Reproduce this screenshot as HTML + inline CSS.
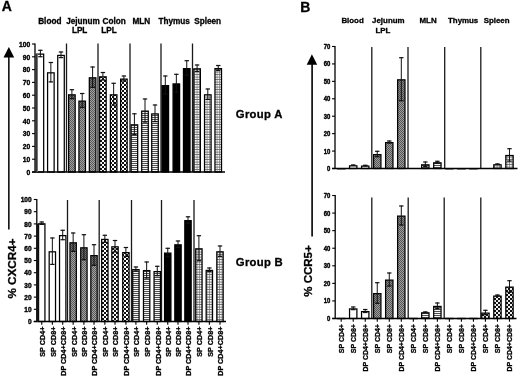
<!DOCTYPE html>
<html><head><meta charset="utf-8"><title>CXCR4 CCR5 figure</title>
<style>
html,body{margin:0;padding:0;background:#fff;}
body{width:520px;height:378px;position:relative;overflow:hidden;font-family:"Liberation Sans", sans-serif;}
text{stroke:#000;stroke-width:0.3px;}
</style></head><body>
<svg width="520" height="378" viewBox="0 0 520 378" style="position:absolute;left:0;top:0;filter:grayscale(1)" font-family='"Liberation Sans", sans-serif' font-weight="bold">
<defs>
<linearGradient id="gBand" x1="0" x2="1" y1="0" y2="0"><stop offset="0" stop-color="#222"/><stop offset="0.45" stop-color="#333"/><stop offset="1" stop-color="#999"/></linearGradient>
<pattern id="pJej" width="2" height="2" patternUnits="userSpaceOnUse"><rect width="2" height="2" fill="#a2a2a2"/><rect width="1" height="1" fill="#5a5a5a"/><rect x="1" y="1" width="1" height="1" fill="#5a5a5a"/></pattern>
<pattern id="pJejB" width="2" height="2" patternUnits="userSpaceOnUse"><rect width="2" height="2" fill="#9e9e9e"/><rect width="1" height="1" fill="#555"/><rect x="1" y="1" width="1" height="1" fill="#555"/></pattern>
<pattern id="pCol" width="4" height="4" patternUnits="userSpaceOnUse"><rect width="4" height="4" fill="#fff"/><rect width="2" height="2" fill="#111"/><rect x="2" y="2" width="2" height="2" fill="#111"/></pattern>
<pattern id="pCol2" width="4" height="4" patternUnits="userSpaceOnUse"><rect width="4" height="4" fill="#eee"/><rect width="2" height="2" fill="#111"/><rect x="2" y="2" width="2" height="2" fill="#111"/></pattern>
<pattern id="pMln" width="2" height="2" patternUnits="userSpaceOnUse"><rect width="2" height="2" fill="#f6f6f6"/><rect y="1" width="2" height="1" fill="#505050"/></pattern>
<pattern id="pSpl" width="2.5" height="2.5" patternUnits="userSpaceOnUse"><rect width="2.5" height="2.5" fill="#f6f6f6"/><rect y="1.9" width="2.5" height="0.6" fill="#333"/><rect x="1.9" width="0.6" height="2.5" fill="#6a6a6a"/></pattern>
</defs>
<rect width="520" height="378" fill="#fff"/>
<text x="1.7" y="11.3" font-size="14" text-anchor="start" >A</text>
<text x="300.2" y="11.5" font-size="14" text-anchor="start" >B</text>
<text x="38.2" y="23.5" font-size="8.2" text-anchor="start" >Blood</text>
<text x="66.2" y="23.5" font-size="8.2" text-anchor="start" >Jejunum</text>
<text x="71.9" y="33.1" font-size="8.2" text-anchor="start" >LPL</text>
<text x="102.6" y="23.5" font-size="8.2" text-anchor="start" >Colon</text>
<text x="101.3" y="33.1" font-size="8.2" text-anchor="start" >LPL</text>
<text x="132.5" y="23.5" font-size="8.2" text-anchor="start" >MLN</text>
<text x="158.5" y="23.5" font-size="8.2" text-anchor="start" >Thymus</text>
<text x="194.2" y="23.5" font-size="8.2" text-anchor="start" >Spleen</text>
<text x="341.4" y="23.3" font-size="7.9" text-anchor="start" >Blood</text>
<text x="372.1" y="23.3" font-size="7.9" text-anchor="start" >Jejunum</text>
<text x="375.5" y="32.6" font-size="7.9" text-anchor="start" >LPL</text>
<text x="419.5" y="23.3" font-size="7.9" text-anchor="start" >MLN</text>
<text x="448" y="23.3" font-size="7.9" text-anchor="start" >Thymus</text>
<text x="483.7" y="23.3" font-size="7.9" text-anchor="start" >Spleen</text>
<text x="235.8" y="117.9" font-size="11.3" text-anchor="start" letter-spacing="0.3">Group A</text>
<text x="235.8" y="265.9" font-size="11.3" text-anchor="start" letter-spacing="0.3">Group B</text>
<line x1="8.85" y1="56" x2="8.85" y2="229.4" stroke="#000" stroke-width="1.5"/>
<polygon points="8.85,46.9 14.2,57.4 3.5,57.4" fill="#000"/>
<line x1="312.1" y1="64" x2="312.1" y2="236.5" stroke="#000" stroke-width="1.6"/>
<polygon points="311.9,54.3 317.2,64.8 306.7,64.8" fill="#000"/>
<text transform="translate(15.95,238.5) rotate(-90)" font-size="11.7" text-anchor="end" >% CXCR4+</text>
<text transform="translate(312.1,245.3) rotate(-90)" font-size="11.5" text-anchor="end" >% CCR5+</text>
<line x1="66.5" y1="43.5" x2="66.5" y2="172" stroke="#1a1a1a" stroke-width="1.3"/>
<line x1="98" y1="43.5" x2="98" y2="172" stroke="#1a1a1a" stroke-width="1.3"/>
<line x1="130" y1="43.5" x2="130" y2="172" stroke="#1a1a1a" stroke-width="1.3"/>
<line x1="161" y1="43.5" x2="161" y2="172" stroke="#1a1a1a" stroke-width="1.3"/>
<line x1="192.5" y1="43.5" x2="192.5" y2="172" stroke="#1a1a1a" stroke-width="1.3"/>
<rect x="37.12" y="54.12" width="6.55" height="117.88" fill="#fff" stroke="#000" stroke-width="1.25"/>
<line x1="40.4" y1="49.8" x2="40.4" y2="57.2" stroke="#111" stroke-width="1"/>
<line x1="38.2" y1="50.3" x2="42.6" y2="50.3" stroke="#111" stroke-width="1.2"/>
<line x1="38.2" y1="56.7" x2="42.6" y2="56.7" stroke="#111" stroke-width="1.2"/>
<rect x="47.58" y="72.83" width="6.55" height="99.17" fill="#fff" stroke="#000" stroke-width="1.25"/>
<line x1="50.85" y1="62" x2="50.85" y2="82.4" stroke="#111" stroke-width="1"/>
<line x1="48.65" y1="62.5" x2="53.05" y2="62.5" stroke="#111" stroke-width="1.2"/>
<line x1="48.65" y1="81.9" x2="53.05" y2="81.9" stroke="#111" stroke-width="1.2"/>
<rect x="57.73" y="55.42" width="6.55" height="116.58" fill="#fff" stroke="#000" stroke-width="1.25"/>
<line x1="61" y1="51.5" x2="61" y2="58.1" stroke="#111" stroke-width="1"/>
<line x1="58.8" y1="52" x2="63.2" y2="52" stroke="#111" stroke-width="1.2"/>
<line x1="58.8" y1="57.6" x2="63.2" y2="57.6" stroke="#111" stroke-width="1.2"/>
<rect x="68.62" y="94.83" width="6.55" height="77.17" fill="url(#pJej)" stroke="#000" stroke-width="1.25"/>
<rect x="69.25" y="94.83" width="5.3" height="4.38" fill="rgba(0,0,0,0.28)"/>
<line x1="71.9" y1="89.2" x2="71.9" y2="99.2" stroke="#111" stroke-width="1"/>
<line x1="69.7" y1="89.7" x2="74.1" y2="89.7" stroke="#111" stroke-width="1.2"/>
<line x1="69.7" y1="98.7" x2="74.1" y2="98.7" stroke="#111" stroke-width="1.2"/>
<rect x="78.92" y="101.12" width="6.55" height="70.88" fill="url(#pJej)" stroke="#000" stroke-width="1.25"/>
<rect x="79.55" y="101.12" width="5.3" height="6.88" fill="rgba(0,0,0,0.28)"/>
<line x1="82.2" y1="93" x2="82.2" y2="108" stroke="#111" stroke-width="1"/>
<line x1="80" y1="93.5" x2="84.4" y2="93.5" stroke="#111" stroke-width="1.2"/>
<line x1="80" y1="107.5" x2="84.4" y2="107.5" stroke="#111" stroke-width="1.2"/>
<rect x="89.32" y="77.83" width="6.55" height="94.17" fill="url(#pJej)" stroke="#000" stroke-width="1.25"/>
<rect x="89.95" y="77.83" width="5.3" height="10.08" fill="rgba(0,0,0,0.28)"/>
<line x1="92.6" y1="66.5" x2="92.6" y2="87.9" stroke="#111" stroke-width="1"/>
<line x1="90.4" y1="67" x2="94.8" y2="67" stroke="#111" stroke-width="1.2"/>
<line x1="90.4" y1="87.4" x2="94.8" y2="87.4" stroke="#111" stroke-width="1.2"/>
<rect x="99.62" y="76.83" width="6.55" height="95.17" fill="url(#pCol)" stroke="#000" stroke-width="1.25"/>
<line x1="102.9" y1="72" x2="102.9" y2="80.4" stroke="#111" stroke-width="1"/>
<line x1="100.7" y1="72.5" x2="105.1" y2="72.5" stroke="#111" stroke-width="1.2"/>
<line x1="100.7" y1="79.9" x2="105.1" y2="79.9" stroke="#111" stroke-width="1.2"/>
<rect x="110.38" y="94.83" width="6.55" height="77.17" fill="url(#pCol)" stroke="#000" stroke-width="1.25"/>
<line x1="113.65" y1="82.8" x2="113.65" y2="105.6" stroke="#111" stroke-width="1"/>
<line x1="111.45" y1="83.3" x2="115.85" y2="83.3" stroke="#111" stroke-width="1.2"/>
<line x1="111.45" y1="105.1" x2="115.85" y2="105.1" stroke="#111" stroke-width="1.2"/>
<rect x="120.62" y="79.12" width="6.55" height="92.88" fill="url(#pCol)" stroke="#000" stroke-width="1.25"/>
<line x1="123.9" y1="75.5" x2="123.9" y2="81.5" stroke="#111" stroke-width="1"/>
<line x1="121.7" y1="76" x2="126.1" y2="76" stroke="#111" stroke-width="1.2"/>
<line x1="121.7" y1="81" x2="126.1" y2="81" stroke="#111" stroke-width="1.2"/>
<rect x="131.12" y="124.83" width="6.55" height="47.17" fill="url(#pMln)" stroke="#000" stroke-width="1.25"/>
<line x1="134.4" y1="113.3" x2="134.4" y2="135.1" stroke="#111" stroke-width="1"/>
<line x1="132.2" y1="113.8" x2="136.6" y2="113.8" stroke="#111" stroke-width="1.2"/>
<line x1="132.2" y1="134.6" x2="136.6" y2="134.6" stroke="#111" stroke-width="1.2"/>
<rect x="141.72" y="111.12" width="6.55" height="60.88" fill="url(#pMln)" stroke="#000" stroke-width="1.25"/>
<line x1="145" y1="98.5" x2="145" y2="122.5" stroke="#111" stroke-width="1"/>
<line x1="142.8" y1="99" x2="147.2" y2="99" stroke="#111" stroke-width="1.2"/>
<line x1="142.8" y1="122" x2="147.2" y2="122" stroke="#111" stroke-width="1.2"/>
<rect x="151.72" y="113.92" width="6.55" height="58.08" fill="url(#pMln)" stroke="#000" stroke-width="1.25"/>
<line x1="155" y1="104.5" x2="155" y2="122.1" stroke="#111" stroke-width="1"/>
<line x1="152.8" y1="105" x2="157.2" y2="105" stroke="#111" stroke-width="1.2"/>
<line x1="152.8" y1="121.6" x2="157.2" y2="121.6" stroke="#111" stroke-width="1.2"/>
<rect x="162.03" y="85.62" width="6.55" height="86.38" fill="#000" stroke="#000" stroke-width="1.25"/>
<line x1="165.3" y1="75.5" x2="165.3" y2="94.5" stroke="#111" stroke-width="1"/>
<line x1="163.1" y1="76" x2="167.5" y2="76" stroke="#111" stroke-width="1.2"/>
<line x1="163.1" y1="94" x2="167.5" y2="94" stroke="#111" stroke-width="1.2"/>
<rect x="173.07" y="83.92" width="6.55" height="88.08" fill="#000" stroke="#000" stroke-width="1.25"/>
<line x1="176.35" y1="73.8" x2="176.35" y2="92.8" stroke="#111" stroke-width="1"/>
<line x1="174.15" y1="74.3" x2="178.55" y2="74.3" stroke="#111" stroke-width="1.2"/>
<line x1="174.15" y1="92.3" x2="178.55" y2="92.3" stroke="#111" stroke-width="1.2"/>
<rect x="183.47" y="68.62" width="6.55" height="103.38" fill="#000" stroke="#000" stroke-width="1.25"/>
<line x1="186.75" y1="60.2" x2="186.75" y2="75.8" stroke="#111" stroke-width="1"/>
<line x1="184.55" y1="60.7" x2="188.95" y2="60.7" stroke="#111" stroke-width="1.2"/>
<line x1="184.55" y1="75.3" x2="188.95" y2="75.3" stroke="#111" stroke-width="1.2"/>
<rect x="193.82" y="68.83" width="6.55" height="103.17" fill="url(#pSpl)" stroke="#000" stroke-width="1.25"/>
<line x1="197.1" y1="64.5" x2="197.1" y2="71.9" stroke="#111" stroke-width="1"/>
<line x1="194.9" y1="65" x2="199.3" y2="65" stroke="#111" stroke-width="1.2"/>
<line x1="194.9" y1="71.4" x2="199.3" y2="71.4" stroke="#111" stroke-width="1.2"/>
<rect x="204.53" y="94.83" width="6.55" height="77.17" fill="url(#pSpl)" stroke="#000" stroke-width="1.25"/>
<line x1="207.8" y1="88.5" x2="207.8" y2="99.9" stroke="#111" stroke-width="1"/>
<line x1="205.6" y1="89" x2="210" y2="89" stroke="#111" stroke-width="1.2"/>
<line x1="205.6" y1="99.4" x2="210" y2="99.4" stroke="#111" stroke-width="1.2"/>
<rect x="214.97" y="68.62" width="6.55" height="103.38" fill="url(#pSpl)" stroke="#000" stroke-width="1.25"/>
<line x1="218.25" y1="65" x2="218.25" y2="71" stroke="#111" stroke-width="1"/>
<line x1="216.05" y1="65.5" x2="220.45" y2="65.5" stroke="#111" stroke-width="1.2"/>
<line x1="216.05" y1="70.5" x2="220.45" y2="70.5" stroke="#111" stroke-width="1.2"/>
<line x1="35" y1="43.5" x2="35" y2="172.6" stroke="#000" stroke-width="1.3"/>
<line x1="32" y1="172" x2="35" y2="172" stroke="#000" stroke-width="1.1"/>
<text transform="translate(30.3,174.88) scale(0.84,1)" font-size="8" text-anchor="end" style="stroke-width:0.42px">0</text>
<line x1="32" y1="159.2" x2="35" y2="159.2" stroke="#000" stroke-width="1.1"/>
<text transform="translate(30.3,162.08) scale(0.84,1)" font-size="8" text-anchor="end" style="stroke-width:0.42px">10</text>
<line x1="32" y1="146.4" x2="35" y2="146.4" stroke="#000" stroke-width="1.1"/>
<text transform="translate(30.3,149.28) scale(0.84,1)" font-size="8" text-anchor="end" style="stroke-width:0.42px">20</text>
<line x1="32" y1="133.6" x2="35" y2="133.6" stroke="#000" stroke-width="1.1"/>
<text transform="translate(30.3,136.48) scale(0.84,1)" font-size="8" text-anchor="end" style="stroke-width:0.42px">30</text>
<line x1="32" y1="120.8" x2="35" y2="120.8" stroke="#000" stroke-width="1.1"/>
<text transform="translate(30.3,123.68) scale(0.84,1)" font-size="8" text-anchor="end" style="stroke-width:0.42px">40</text>
<line x1="32" y1="108" x2="35" y2="108" stroke="#000" stroke-width="1.1"/>
<text transform="translate(30.3,110.88) scale(0.84,1)" font-size="8" text-anchor="end" style="stroke-width:0.42px">50</text>
<line x1="32" y1="95.2" x2="35" y2="95.2" stroke="#000" stroke-width="1.1"/>
<text transform="translate(30.3,98.08) scale(0.84,1)" font-size="8" text-anchor="end" style="stroke-width:0.42px">60</text>
<line x1="32" y1="82.4" x2="35" y2="82.4" stroke="#000" stroke-width="1.1"/>
<text transform="translate(30.3,85.28) scale(0.84,1)" font-size="8" text-anchor="end" style="stroke-width:0.42px">70</text>
<line x1="32" y1="69.6" x2="35" y2="69.6" stroke="#000" stroke-width="1.1"/>
<text transform="translate(30.3,72.48) scale(0.84,1)" font-size="8" text-anchor="end" style="stroke-width:0.42px">80</text>
<line x1="32" y1="56.8" x2="35" y2="56.8" stroke="#000" stroke-width="1.1"/>
<text transform="translate(30.3,59.68) scale(0.84,1)" font-size="8" text-anchor="end" style="stroke-width:0.42px">90</text>
<line x1="32" y1="44" x2="35" y2="44" stroke="#000" stroke-width="1.1"/>
<text transform="translate(30.3,46.88) scale(0.84,1)" font-size="8" text-anchor="end" style="stroke-width:0.42px">100</text>
<line x1="32" y1="172" x2="225" y2="172" stroke="#000" stroke-width="1.3"/>
<rect x="35.4" y="53.6" width="2.4" height="118.4" fill="url(#gBand)"/>
<line x1="67.5" y1="200" x2="67.5" y2="321.5" stroke="#1a1a1a" stroke-width="1.3"/>
<line x1="99.2" y1="200" x2="99.2" y2="321.5" stroke="#1a1a1a" stroke-width="1.3"/>
<line x1="131.5" y1="200" x2="131.5" y2="321.5" stroke="#1a1a1a" stroke-width="1.3"/>
<line x1="161.5" y1="200" x2="161.5" y2="321.5" stroke="#1a1a1a" stroke-width="1.3"/>
<line x1="194" y1="200" x2="194" y2="321.5" stroke="#1a1a1a" stroke-width="1.3"/>
<rect x="38.58" y="223.82" width="6.35" height="97.68" fill="#fff" stroke="#000" stroke-width="1.25"/>
<line x1="41.75" y1="221.5" x2="41.75" y2="224.9" stroke="#111" stroke-width="1"/>
<line x1="39.55" y1="222" x2="43.95" y2="222" stroke="#111" stroke-width="1.2"/>
<line x1="39.55" y1="224.4" x2="43.95" y2="224.4" stroke="#111" stroke-width="1.2"/>
<rect x="49.18" y="251.82" width="6.35" height="69.68" fill="#fff" stroke="#000" stroke-width="1.25"/>
<line x1="52.35" y1="237.5" x2="52.35" y2="264.9" stroke="#111" stroke-width="1"/>
<line x1="50.15" y1="238" x2="54.55" y2="238" stroke="#111" stroke-width="1.2"/>
<line x1="50.15" y1="264.4" x2="54.55" y2="264.4" stroke="#111" stroke-width="1.2"/>
<rect x="59.53" y="235.62" width="6.35" height="85.88" fill="#fff" stroke="#000" stroke-width="1.25"/>
<line x1="62.7" y1="229.8" x2="62.7" y2="240.2" stroke="#111" stroke-width="1"/>
<line x1="60.5" y1="230.3" x2="64.9" y2="230.3" stroke="#111" stroke-width="1.2"/>
<line x1="60.5" y1="239.7" x2="64.9" y2="239.7" stroke="#111" stroke-width="1.2"/>
<rect x="69.98" y="242.82" width="6.35" height="78.68" fill="url(#pJej)" stroke="#000" stroke-width="1.25"/>
<rect x="70.6" y="242.82" width="5.1" height="9.07" fill="rgba(0,0,0,0.28)"/>
<line x1="73.15" y1="232.5" x2="73.15" y2="251.9" stroke="#111" stroke-width="1"/>
<line x1="70.95" y1="233" x2="75.35" y2="233" stroke="#111" stroke-width="1.2"/>
<line x1="70.95" y1="251.4" x2="75.35" y2="251.4" stroke="#111" stroke-width="1.2"/>
<rect x="80.73" y="247.82" width="6.35" height="73.68" fill="url(#pJej)" stroke="#000" stroke-width="1.25"/>
<rect x="81.35" y="247.82" width="5.1" height="12.38" fill="rgba(0,0,0,0.28)"/>
<line x1="83.9" y1="234.2" x2="83.9" y2="260.2" stroke="#111" stroke-width="1"/>
<line x1="81.7" y1="234.7" x2="86.1" y2="234.7" stroke="#111" stroke-width="1.2"/>
<line x1="81.7" y1="259.7" x2="86.1" y2="259.7" stroke="#111" stroke-width="1.2"/>
<rect x="90.83" y="255.62" width="6.35" height="65.88" fill="url(#pJej)" stroke="#000" stroke-width="1.25"/>
<rect x="91.45" y="255.62" width="5.1" height="10.18" fill="rgba(0,0,0,0.28)"/>
<line x1="94" y1="244.2" x2="94" y2="265.8" stroke="#111" stroke-width="1"/>
<line x1="91.8" y1="244.7" x2="96.2" y2="244.7" stroke="#111" stroke-width="1.2"/>
<line x1="91.8" y1="265.3" x2="96.2" y2="265.3" stroke="#111" stroke-width="1.2"/>
<rect x="101.67" y="239.43" width="6.35" height="82.07" fill="url(#pCol)" stroke="#000" stroke-width="1.25"/>
<line x1="104.85" y1="234.8" x2="104.85" y2="242.8" stroke="#111" stroke-width="1"/>
<line x1="102.65" y1="235.3" x2="107.05" y2="235.3" stroke="#111" stroke-width="1.2"/>
<line x1="102.65" y1="242.3" x2="107.05" y2="242.3" stroke="#111" stroke-width="1.2"/>
<rect x="111.83" y="246.82" width="6.35" height="74.68" fill="url(#pCol)" stroke="#000" stroke-width="1.25"/>
<line x1="115" y1="240" x2="115" y2="252.4" stroke="#111" stroke-width="1"/>
<line x1="112.8" y1="240.5" x2="117.2" y2="240.5" stroke="#111" stroke-width="1.2"/>
<line x1="112.8" y1="251.9" x2="117.2" y2="251.9" stroke="#111" stroke-width="1.2"/>
<rect x="122.73" y="252.62" width="6.35" height="68.88" fill="url(#pCol)" stroke="#000" stroke-width="1.25"/>
<line x1="125.9" y1="247" x2="125.9" y2="257" stroke="#111" stroke-width="1"/>
<line x1="123.7" y1="247.5" x2="128.1" y2="247.5" stroke="#111" stroke-width="1.2"/>
<line x1="123.7" y1="256.5" x2="128.1" y2="256.5" stroke="#111" stroke-width="1.2"/>
<rect x="132.72" y="269.62" width="6.35" height="51.88" fill="url(#pMln)" stroke="#000" stroke-width="1.25"/>
<line x1="135.9" y1="266.5" x2="135.9" y2="271.5" stroke="#111" stroke-width="1"/>
<line x1="133.7" y1="267" x2="138.1" y2="267" stroke="#111" stroke-width="1.2"/>
<line x1="133.7" y1="271" x2="138.1" y2="271" stroke="#111" stroke-width="1.2"/>
<rect x="143.47" y="270.62" width="6.35" height="50.88" fill="url(#pMln)" stroke="#000" stroke-width="1.25"/>
<line x1="146.65" y1="261.5" x2="146.65" y2="278.5" stroke="#111" stroke-width="1"/>
<line x1="144.45" y1="262" x2="148.85" y2="262" stroke="#111" stroke-width="1.2"/>
<line x1="144.45" y1="278" x2="148.85" y2="278" stroke="#111" stroke-width="1.2"/>
<rect x="154.07" y="271.62" width="6.35" height="49.88" fill="url(#pMln)" stroke="#000" stroke-width="1.25"/>
<line x1="157.25" y1="265.8" x2="157.25" y2="276.2" stroke="#111" stroke-width="1"/>
<line x1="155.05" y1="266.3" x2="159.45" y2="266.3" stroke="#111" stroke-width="1.2"/>
<line x1="155.05" y1="275.7" x2="159.45" y2="275.7" stroke="#111" stroke-width="1.2"/>
<rect x="164.57" y="253.12" width="6.35" height="68.38" fill="#000" stroke="#000" stroke-width="1.25"/>
<line x1="167.75" y1="247.8" x2="167.75" y2="257.2" stroke="#111" stroke-width="1"/>
<line x1="165.55" y1="248.3" x2="169.95" y2="248.3" stroke="#111" stroke-width="1.2"/>
<line x1="165.55" y1="256.7" x2="169.95" y2="256.7" stroke="#111" stroke-width="1.2"/>
<rect x="174.82" y="244.82" width="6.35" height="76.68" fill="#000" stroke="#000" stroke-width="1.25"/>
<line x1="178" y1="240.5" x2="178" y2="247.9" stroke="#111" stroke-width="1"/>
<line x1="175.8" y1="241" x2="180.2" y2="241" stroke="#111" stroke-width="1.2"/>
<line x1="175.8" y1="247.4" x2="180.2" y2="247.4" stroke="#111" stroke-width="1.2"/>
<rect x="184.82" y="220.62" width="6.35" height="100.88" fill="#000" stroke="#000" stroke-width="1.25"/>
<line x1="188" y1="216.3" x2="188" y2="223.7" stroke="#111" stroke-width="1"/>
<line x1="185.8" y1="216.8" x2="190.2" y2="216.8" stroke="#111" stroke-width="1.2"/>
<line x1="185.8" y1="223.2" x2="190.2" y2="223.2" stroke="#111" stroke-width="1.2"/>
<rect x="195.72" y="248.82" width="6.35" height="72.68" fill="url(#pSpl)" stroke="#000" stroke-width="1.25"/>
<line x1="198.9" y1="235.2" x2="198.9" y2="261.2" stroke="#111" stroke-width="1"/>
<line x1="196.7" y1="235.7" x2="201.1" y2="235.7" stroke="#111" stroke-width="1.2"/>
<line x1="196.7" y1="260.7" x2="201.1" y2="260.7" stroke="#111" stroke-width="1.2"/>
<rect x="206.17" y="270.43" width="6.35" height="51.07" fill="url(#pSpl)" stroke="#000" stroke-width="1.25"/>
<line x1="209.35" y1="267.5" x2="209.35" y2="272.1" stroke="#111" stroke-width="1"/>
<line x1="207.15" y1="268" x2="211.55" y2="268" stroke="#111" stroke-width="1.2"/>
<line x1="207.15" y1="271.6" x2="211.55" y2="271.6" stroke="#111" stroke-width="1.2"/>
<rect x="216.82" y="251.82" width="6.35" height="69.68" fill="url(#pSpl)" stroke="#000" stroke-width="1.25"/>
<line x1="220" y1="245.5" x2="220" y2="256.9" stroke="#111" stroke-width="1"/>
<line x1="217.8" y1="246" x2="222.2" y2="246" stroke="#111" stroke-width="1.2"/>
<line x1="217.8" y1="256.4" x2="222.2" y2="256.4" stroke="#111" stroke-width="1.2"/>
<line x1="36.8" y1="199" x2="36.8" y2="322.1" stroke="#000" stroke-width="1.3"/>
<line x1="33.8" y1="321.5" x2="36.8" y2="321.5" stroke="#000" stroke-width="1.1"/>
<text transform="translate(31.6,324.24) scale(0.86,1)" font-size="7.6" text-anchor="end" style="stroke-width:0.42px">0</text>
<line x1="33.8" y1="309.3" x2="36.8" y2="309.3" stroke="#000" stroke-width="1.1"/>
<text transform="translate(31.6,312.04) scale(0.86,1)" font-size="7.6" text-anchor="end" style="stroke-width:0.42px">10</text>
<line x1="33.8" y1="297.1" x2="36.8" y2="297.1" stroke="#000" stroke-width="1.1"/>
<text transform="translate(31.6,299.84) scale(0.86,1)" font-size="7.6" text-anchor="end" style="stroke-width:0.42px">20</text>
<line x1="33.8" y1="284.9" x2="36.8" y2="284.9" stroke="#000" stroke-width="1.1"/>
<text transform="translate(31.6,287.64) scale(0.86,1)" font-size="7.6" text-anchor="end" style="stroke-width:0.42px">30</text>
<line x1="33.8" y1="272.7" x2="36.8" y2="272.7" stroke="#000" stroke-width="1.1"/>
<text transform="translate(31.6,275.44) scale(0.86,1)" font-size="7.6" text-anchor="end" style="stroke-width:0.42px">40</text>
<line x1="33.8" y1="260.5" x2="36.8" y2="260.5" stroke="#000" stroke-width="1.1"/>
<text transform="translate(31.6,263.24) scale(0.86,1)" font-size="7.6" text-anchor="end" style="stroke-width:0.42px">50</text>
<line x1="33.8" y1="248.3" x2="36.8" y2="248.3" stroke="#000" stroke-width="1.1"/>
<text transform="translate(31.6,251.04) scale(0.86,1)" font-size="7.6" text-anchor="end" style="stroke-width:0.42px">60</text>
<line x1="33.8" y1="236.1" x2="36.8" y2="236.1" stroke="#000" stroke-width="1.1"/>
<text transform="translate(31.6,238.84) scale(0.86,1)" font-size="7.6" text-anchor="end" style="stroke-width:0.42px">70</text>
<line x1="33.8" y1="223.9" x2="36.8" y2="223.9" stroke="#000" stroke-width="1.1"/>
<text transform="translate(31.6,226.64) scale(0.86,1)" font-size="7.6" text-anchor="end" style="stroke-width:0.42px">80</text>
<line x1="33.8" y1="211.7" x2="36.8" y2="211.7" stroke="#000" stroke-width="1.1"/>
<text transform="translate(31.6,214.44) scale(0.86,1)" font-size="7.6" text-anchor="end" style="stroke-width:0.42px">90</text>
<line x1="33.8" y1="199.5" x2="36.8" y2="199.5" stroke="#000" stroke-width="1.1"/>
<text transform="translate(31.6,202.24) scale(0.86,1)" font-size="7.6" text-anchor="end" style="stroke-width:0.42px">100</text>
<line x1="33.8" y1="321.5" x2="226" y2="321.5" stroke="#000" stroke-width="1.3"/>
<rect x="36.6" y="223.7" width="2" height="97.8" fill="#151515"/>
<line x1="41.75" y1="321.5" x2="41.75" y2="324.7" stroke="#000" stroke-width="1.1"/>
<text transform="translate(45.1,326.6) rotate(-90) scale(0.95,1)" font-size="7.6" text-anchor="end" >SP CD4+</text>
<line x1="52.35" y1="321.5" x2="52.35" y2="324.7" stroke="#000" stroke-width="1.1"/>
<text transform="translate(55.7,326.6) rotate(-90) scale(0.95,1)" font-size="7.6" text-anchor="end" >SP CD8+</text>
<line x1="62.7" y1="321.5" x2="62.7" y2="324.7" stroke="#000" stroke-width="1.1"/>
<text transform="translate(66.05,326.6) rotate(-90) scale(0.95,1)" font-size="7.6" text-anchor="end" >DP CD4+CD8+</text>
<line x1="73.15" y1="321.5" x2="73.15" y2="324.7" stroke="#000" stroke-width="1.1"/>
<text transform="translate(76.5,326.6) rotate(-90) scale(0.95,1)" font-size="7.6" text-anchor="end" >SP CD4+</text>
<line x1="83.9" y1="321.5" x2="83.9" y2="324.7" stroke="#000" stroke-width="1.1"/>
<text transform="translate(87.25,326.6) rotate(-90) scale(0.95,1)" font-size="7.6" text-anchor="end" >SP CD8+</text>
<line x1="94" y1="321.5" x2="94" y2="324.7" stroke="#000" stroke-width="1.1"/>
<text transform="translate(97.35,326.6) rotate(-90) scale(0.95,1)" font-size="7.6" text-anchor="end" >DP CD4+CD8+</text>
<line x1="104.85" y1="321.5" x2="104.85" y2="324.7" stroke="#000" stroke-width="1.1"/>
<text transform="translate(108.2,326.6) rotate(-90) scale(0.95,1)" font-size="7.6" text-anchor="end" >SP CD4+</text>
<line x1="115" y1="321.5" x2="115" y2="324.7" stroke="#000" stroke-width="1.1"/>
<text transform="translate(118.35,326.6) rotate(-90) scale(0.95,1)" font-size="7.6" text-anchor="end" >SP CD8+</text>
<line x1="125.9" y1="321.5" x2="125.9" y2="324.7" stroke="#000" stroke-width="1.1"/>
<text transform="translate(129.25,326.6) rotate(-90) scale(0.95,1)" font-size="7.6" text-anchor="end" >DP CD4+CD8+</text>
<line x1="135.9" y1="321.5" x2="135.9" y2="324.7" stroke="#000" stroke-width="1.1"/>
<text transform="translate(139.25,326.6) rotate(-90) scale(0.95,1)" font-size="7.6" text-anchor="end" >SP CD4+</text>
<line x1="146.65" y1="321.5" x2="146.65" y2="324.7" stroke="#000" stroke-width="1.1"/>
<text transform="translate(150,326.6) rotate(-90) scale(0.95,1)" font-size="7.6" text-anchor="end" >SP CD8+</text>
<line x1="157.25" y1="321.5" x2="157.25" y2="324.7" stroke="#000" stroke-width="1.1"/>
<text transform="translate(160.6,326.6) rotate(-90) scale(0.95,1)" font-size="7.6" text-anchor="end" >DP CD4+CD8+</text>
<line x1="167.75" y1="321.5" x2="167.75" y2="324.7" stroke="#000" stroke-width="1.1"/>
<text transform="translate(171.1,326.6) rotate(-90) scale(0.95,1)" font-size="7.6" text-anchor="end" >SP CD4+</text>
<line x1="178" y1="321.5" x2="178" y2="324.7" stroke="#000" stroke-width="1.1"/>
<text transform="translate(181.35,326.6) rotate(-90) scale(0.95,1)" font-size="7.6" text-anchor="end" >SP CD8+</text>
<line x1="188" y1="321.5" x2="188" y2="324.7" stroke="#000" stroke-width="1.1"/>
<text transform="translate(191.35,326.6) rotate(-90) scale(0.95,1)" font-size="7.6" text-anchor="end" >DP CD4+CD8+</text>
<line x1="198.9" y1="321.5" x2="198.9" y2="324.7" stroke="#000" stroke-width="1.1"/>
<text transform="translate(202.25,326.6) rotate(-90) scale(0.95,1)" font-size="7.6" text-anchor="end" >SP CD4+</text>
<line x1="209.35" y1="321.5" x2="209.35" y2="324.7" stroke="#000" stroke-width="1.1"/>
<text transform="translate(212.7,326.6) rotate(-90) scale(0.95,1)" font-size="7.6" text-anchor="end" >SP CD8+</text>
<line x1="220" y1="321.5" x2="220" y2="324.7" stroke="#000" stroke-width="1.1"/>
<text transform="translate(223.35,326.6) rotate(-90) scale(0.95,1)" font-size="7.6" text-anchor="end" >DP CD4+CD8+</text>
<line x1="371.8" y1="47" x2="371.8" y2="168.5" stroke="#1a1a1a" stroke-width="1.3"/>
<line x1="408" y1="47" x2="408" y2="168.5" stroke="#1a1a1a" stroke-width="1.3"/>
<line x1="444.7" y1="47" x2="444.7" y2="168.5" stroke="#1a1a1a" stroke-width="1.3"/>
<line x1="480.8" y1="47" x2="480.8" y2="168.5" stroke="#1a1a1a" stroke-width="1.3"/>
<rect x="337.52" y="168.62" width="7.35" height="0.2" fill="#fff" stroke="#000" stroke-width="1.25"/>
<rect x="349.54" y="165.82" width="7.35" height="2.68" fill="#fff" stroke="#000" stroke-width="1.25"/>
<line x1="353.22" y1="164.6" x2="353.22" y2="165.8" stroke="#111" stroke-width="1"/>
<line x1="351.02" y1="165.1" x2="355.42" y2="165.1" stroke="#111" stroke-width="1.2"/>
<line x1="351.02" y1="165.3" x2="355.42" y2="165.3" stroke="#111" stroke-width="1.2"/>
<rect x="361.56" y="166.12" width="7.35" height="2.38" fill="#fff" stroke="#000" stroke-width="1.25"/>
<line x1="365.24" y1="164.8" x2="365.24" y2="166.2" stroke="#111" stroke-width="1"/>
<line x1="363.04" y1="165.3" x2="367.44" y2="165.3" stroke="#111" stroke-width="1.2"/>
<line x1="363.04" y1="165.7" x2="367.44" y2="165.7" stroke="#111" stroke-width="1.2"/>
<rect x="373.58" y="154.62" width="7.35" height="13.88" fill="url(#pJejB)" stroke="#000" stroke-width="1.25"/>
<rect x="374.21" y="154.62" width="6.1" height="2.57" fill="rgba(0,0,0,0.12)"/>
<line x1="377.26" y1="150.8" x2="377.26" y2="157.2" stroke="#111" stroke-width="1"/>
<line x1="375.06" y1="151.3" x2="379.46" y2="151.3" stroke="#111" stroke-width="1.2"/>
<line x1="375.06" y1="156.7" x2="379.46" y2="156.7" stroke="#111" stroke-width="1.2"/>
<rect x="385.6" y="142.62" width="7.35" height="25.88" fill="url(#pJejB)" stroke="#000" stroke-width="1.25"/>
<rect x="386.23" y="142.62" width="6.1" height="0.88" fill="rgba(0,0,0,0.12)"/>
<line x1="389.28" y1="140.5" x2="389.28" y2="143.5" stroke="#111" stroke-width="1"/>
<line x1="387.08" y1="141" x2="391.48" y2="141" stroke="#111" stroke-width="1.2"/>
<line x1="387.08" y1="143" x2="391.48" y2="143" stroke="#111" stroke-width="1.2"/>
<rect x="397.62" y="79.83" width="7.35" height="88.67" fill="url(#pJejB)" stroke="#000" stroke-width="1.25"/>
<rect x="398.25" y="79.83" width="6.1" height="21.38" fill="rgba(0,0,0,0.12)"/>
<line x1="401.3" y1="57.2" x2="401.3" y2="101.2" stroke="#111" stroke-width="1"/>
<line x1="399.1" y1="57.7" x2="403.5" y2="57.7" stroke="#111" stroke-width="1.2"/>
<line x1="399.1" y1="100.7" x2="403.5" y2="100.7" stroke="#111" stroke-width="1.2"/>
<rect x="421.66" y="164.82" width="7.35" height="3.68" fill="url(#pMln)" stroke="#000" stroke-width="1.25"/>
<line x1="425.34" y1="161.5" x2="425.34" y2="166.9" stroke="#111" stroke-width="1"/>
<line x1="423.14" y1="162" x2="427.54" y2="162" stroke="#111" stroke-width="1.2"/>
<line x1="423.14" y1="166.4" x2="427.54" y2="166.4" stroke="#111" stroke-width="1.2"/>
<rect x="433.69" y="162.82" width="7.35" height="5.68" fill="url(#pMln)" stroke="#000" stroke-width="1.25"/>
<line x1="437.36" y1="160.8" x2="437.36" y2="163.6" stroke="#111" stroke-width="1"/>
<line x1="435.16" y1="161.3" x2="439.56" y2="161.3" stroke="#111" stroke-width="1.2"/>
<line x1="435.16" y1="163.1" x2="439.56" y2="163.1" stroke="#111" stroke-width="1.2"/>
<rect x="445.7" y="168.62" width="7.35" height="0.2" fill="#000" stroke="#000" stroke-width="1.25"/>
<rect x="457.72" y="168.62" width="7.35" height="0.2" fill="#000" stroke="#000" stroke-width="1.25"/>
<rect x="469.74" y="168.62" width="7.35" height="0.2" fill="#000" stroke="#000" stroke-width="1.25"/>
<rect x="493.78" y="164.82" width="7.35" height="3.68" fill="url(#pSpl)" stroke="#000" stroke-width="1.25"/>
<line x1="497.46" y1="163.5" x2="497.46" y2="164.9" stroke="#111" stroke-width="1"/>
<line x1="495.26" y1="164" x2="499.66" y2="164" stroke="#111" stroke-width="1.2"/>
<line x1="495.26" y1="164.4" x2="499.66" y2="164.4" stroke="#111" stroke-width="1.2"/>
<rect x="505.81" y="155.53" width="7.35" height="12.97" fill="url(#pSpl)" stroke="#000" stroke-width="1.25"/>
<line x1="509.48" y1="148.2" x2="509.48" y2="161.6" stroke="#111" stroke-width="1"/>
<line x1="507.28" y1="148.7" x2="511.68" y2="148.7" stroke="#111" stroke-width="1.2"/>
<line x1="507.28" y1="161.1" x2="511.68" y2="161.1" stroke="#111" stroke-width="1.2"/>
<line x1="335" y1="46" x2="335" y2="169.1" stroke="#000" stroke-width="1.3"/>
<line x1="332" y1="168.5" x2="335" y2="168.5" stroke="#000" stroke-width="1.1"/>
<text transform="translate(330.2,170.95) scale(0.87,1)" font-size="6.8" text-anchor="end" style="stroke-width:0.42px">0</text>
<line x1="332" y1="151.07" x2="335" y2="151.07" stroke="#000" stroke-width="1.1"/>
<text transform="translate(330.2,153.52) scale(0.87,1)" font-size="6.8" text-anchor="end" style="stroke-width:0.42px">10</text>
<line x1="332" y1="133.64" x2="335" y2="133.64" stroke="#000" stroke-width="1.1"/>
<text transform="translate(330.2,136.09) scale(0.87,1)" font-size="6.8" text-anchor="end" style="stroke-width:0.42px">20</text>
<line x1="332" y1="116.21" x2="335" y2="116.21" stroke="#000" stroke-width="1.1"/>
<text transform="translate(330.2,118.66) scale(0.87,1)" font-size="6.8" text-anchor="end" style="stroke-width:0.42px">30</text>
<line x1="332" y1="98.78" x2="335" y2="98.78" stroke="#000" stroke-width="1.1"/>
<text transform="translate(330.2,101.23) scale(0.87,1)" font-size="6.8" text-anchor="end" style="stroke-width:0.42px">40</text>
<line x1="332" y1="81.35" x2="335" y2="81.35" stroke="#000" stroke-width="1.1"/>
<text transform="translate(330.2,83.8) scale(0.87,1)" font-size="6.8" text-anchor="end" style="stroke-width:0.42px">50</text>
<line x1="332" y1="63.92" x2="335" y2="63.92" stroke="#000" stroke-width="1.1"/>
<text transform="translate(330.2,66.37) scale(0.87,1)" font-size="6.8" text-anchor="end" style="stroke-width:0.42px">60</text>
<line x1="332" y1="46.49" x2="335" y2="46.49" stroke="#000" stroke-width="1.1"/>
<text transform="translate(330.2,48.94) scale(0.87,1)" font-size="6.8" text-anchor="end" style="stroke-width:0.42px">70</text>
<line x1="332" y1="168.5" x2="517.5" y2="168.5" stroke="#000" stroke-width="1.3"/>
<line x1="371.8" y1="197.5" x2="371.8" y2="318.5" stroke="#1a1a1a" stroke-width="1.3"/>
<line x1="408.2" y1="197.5" x2="408.2" y2="318.5" stroke="#1a1a1a" stroke-width="1.3"/>
<line x1="444.2" y1="197.5" x2="444.2" y2="318.5" stroke="#1a1a1a" stroke-width="1.3"/>
<line x1="480.8" y1="197.5" x2="480.8" y2="318.5" stroke="#1a1a1a" stroke-width="1.3"/>
<rect x="337.52" y="318.43" width="7.35" height="0.2" fill="#fff" stroke="#000" stroke-width="1.25"/>
<rect x="349.54" y="308.93" width="7.35" height="9.57" fill="#fff" stroke="#000" stroke-width="1.25"/>
<line x1="353.22" y1="306.5" x2="353.22" y2="310.1" stroke="#111" stroke-width="1"/>
<line x1="351.02" y1="307" x2="355.42" y2="307" stroke="#111" stroke-width="1.2"/>
<line x1="351.02" y1="309.6" x2="355.42" y2="309.6" stroke="#111" stroke-width="1.2"/>
<rect x="361.56" y="311.62" width="7.35" height="6.88" fill="#fff" stroke="#000" stroke-width="1.25"/>
<line x1="365.24" y1="309" x2="365.24" y2="313" stroke="#111" stroke-width="1"/>
<line x1="363.04" y1="309.5" x2="367.44" y2="309.5" stroke="#111" stroke-width="1.2"/>
<line x1="363.04" y1="312.5" x2="367.44" y2="312.5" stroke="#111" stroke-width="1.2"/>
<rect x="373.58" y="293.62" width="7.35" height="24.88" fill="url(#pJejB)" stroke="#000" stroke-width="1.25"/>
<rect x="374.21" y="293.62" width="6.1" height="10.18" fill="rgba(0,0,0,0.12)"/>
<line x1="377.26" y1="282.2" x2="377.26" y2="303.8" stroke="#111" stroke-width="1"/>
<line x1="375.06" y1="282.7" x2="379.46" y2="282.7" stroke="#111" stroke-width="1.2"/>
<line x1="375.06" y1="303.3" x2="379.46" y2="303.3" stroke="#111" stroke-width="1.2"/>
<rect x="385.6" y="280.12" width="7.35" height="38.38" fill="url(#pJejB)" stroke="#000" stroke-width="1.25"/>
<rect x="386.23" y="280.12" width="6.1" height="6.38" fill="rgba(0,0,0,0.12)"/>
<line x1="389.28" y1="272.5" x2="389.28" y2="286.5" stroke="#111" stroke-width="1"/>
<line x1="387.08" y1="273" x2="391.48" y2="273" stroke="#111" stroke-width="1.2"/>
<line x1="387.08" y1="286" x2="391.48" y2="286" stroke="#111" stroke-width="1.2"/>
<rect x="397.62" y="216.12" width="7.35" height="102.38" fill="url(#pJejB)" stroke="#000" stroke-width="1.25"/>
<rect x="398.25" y="216.12" width="6.1" height="9.38" fill="rgba(0,0,0,0.12)"/>
<line x1="401.3" y1="205.5" x2="401.3" y2="225.5" stroke="#111" stroke-width="1"/>
<line x1="399.1" y1="206" x2="403.5" y2="206" stroke="#111" stroke-width="1.2"/>
<line x1="399.1" y1="225" x2="403.5" y2="225" stroke="#111" stroke-width="1.2"/>
<rect x="409.64" y="318.43" width="7.35" height="0.2" fill="url(#pMln)" stroke="#000" stroke-width="1.25"/>
<rect x="421.66" y="312.82" width="7.35" height="5.68" fill="url(#pMln)" stroke="#000" stroke-width="1.25"/>
<line x1="425.34" y1="311.5" x2="425.34" y2="312.9" stroke="#111" stroke-width="1"/>
<line x1="423.14" y1="312" x2="427.54" y2="312" stroke="#111" stroke-width="1.2"/>
<line x1="423.14" y1="312.4" x2="427.54" y2="312.4" stroke="#111" stroke-width="1.2"/>
<rect x="433.69" y="306.43" width="7.35" height="12.07" fill="url(#pMln)" stroke="#000" stroke-width="1.25"/>
<line x1="437.36" y1="302.5" x2="437.36" y2="309.1" stroke="#111" stroke-width="1"/>
<line x1="435.16" y1="303" x2="439.56" y2="303" stroke="#111" stroke-width="1.2"/>
<line x1="435.16" y1="308.6" x2="439.56" y2="308.6" stroke="#111" stroke-width="1.2"/>
<rect x="445.7" y="318.43" width="7.35" height="0.2" fill="#000" stroke="#000" stroke-width="1.25"/>
<rect x="457.72" y="318.43" width="7.35" height="0.2" fill="#000" stroke="#000" stroke-width="1.25"/>
<rect x="469.74" y="318.43" width="7.35" height="0.2" fill="#000" stroke="#000" stroke-width="1.25"/>
<rect x="481.76" y="313.12" width="7.35" height="5.38" fill="url(#pCol2)" stroke="#000" stroke-width="1.25"/>
<line x1="485.44" y1="309.8" x2="485.44" y2="315.2" stroke="#111" stroke-width="1"/>
<line x1="483.24" y1="310.3" x2="487.64" y2="310.3" stroke="#111" stroke-width="1.2"/>
<line x1="483.24" y1="314.7" x2="487.64" y2="314.7" stroke="#111" stroke-width="1.2"/>
<rect x="493.78" y="296.12" width="7.35" height="22.38" fill="url(#pCol2)" stroke="#000" stroke-width="1.25"/>
<line x1="497.46" y1="294.5" x2="497.46" y2="296.5" stroke="#111" stroke-width="1"/>
<line x1="495.26" y1="295" x2="499.66" y2="295" stroke="#111" stroke-width="1.2"/>
<line x1="495.26" y1="296" x2="499.66" y2="296" stroke="#111" stroke-width="1.2"/>
<rect x="505.81" y="287.12" width="7.35" height="31.38" fill="url(#pCol2)" stroke="#000" stroke-width="1.25"/>
<line x1="509.48" y1="280.2" x2="509.48" y2="292.8" stroke="#111" stroke-width="1"/>
<line x1="507.28" y1="280.7" x2="511.68" y2="280.7" stroke="#111" stroke-width="1.2"/>
<line x1="507.28" y1="292.3" x2="511.68" y2="292.3" stroke="#111" stroke-width="1.2"/>
<line x1="335.2" y1="195" x2="335.2" y2="319.1" stroke="#000" stroke-width="1.3"/>
<line x1="332.2" y1="318.5" x2="335.2" y2="318.5" stroke="#000" stroke-width="1.1"/>
<text transform="translate(330.2,320.95) scale(0.87,1)" font-size="6.8" text-anchor="end" style="stroke-width:0.42px">0</text>
<line x1="332.2" y1="300.93" x2="335.2" y2="300.93" stroke="#000" stroke-width="1.1"/>
<text transform="translate(330.2,303.38) scale(0.87,1)" font-size="6.8" text-anchor="end" style="stroke-width:0.42px">10</text>
<line x1="332.2" y1="283.36" x2="335.2" y2="283.36" stroke="#000" stroke-width="1.1"/>
<text transform="translate(330.2,285.81) scale(0.87,1)" font-size="6.8" text-anchor="end" style="stroke-width:0.42px">20</text>
<line x1="332.2" y1="265.79" x2="335.2" y2="265.79" stroke="#000" stroke-width="1.1"/>
<text transform="translate(330.2,268.24) scale(0.87,1)" font-size="6.8" text-anchor="end" style="stroke-width:0.42px">30</text>
<line x1="332.2" y1="248.22" x2="335.2" y2="248.22" stroke="#000" stroke-width="1.1"/>
<text transform="translate(330.2,250.67) scale(0.87,1)" font-size="6.8" text-anchor="end" style="stroke-width:0.42px">40</text>
<line x1="332.2" y1="230.65" x2="335.2" y2="230.65" stroke="#000" stroke-width="1.1"/>
<text transform="translate(330.2,233.1) scale(0.87,1)" font-size="6.8" text-anchor="end" style="stroke-width:0.42px">50</text>
<line x1="332.2" y1="213.08" x2="335.2" y2="213.08" stroke="#000" stroke-width="1.1"/>
<text transform="translate(330.2,215.53) scale(0.87,1)" font-size="6.8" text-anchor="end" style="stroke-width:0.42px">60</text>
<line x1="332.2" y1="195.51" x2="335.2" y2="195.51" stroke="#000" stroke-width="1.1"/>
<text transform="translate(330.2,197.96) scale(0.87,1)" font-size="6.8" text-anchor="end" style="stroke-width:0.42px">70</text>
<line x1="332.2" y1="318.5" x2="516.5" y2="318.5" stroke="#000" stroke-width="1.3"/>
<line x1="341.2" y1="318.5" x2="341.2" y2="321.7" stroke="#000" stroke-width="1.1"/>
<text transform="translate(343.9,324.1) rotate(-90) scale(0.955,1)" font-size="7.3" text-anchor="end" >SP CD4+</text>
<line x1="353.22" y1="318.5" x2="353.22" y2="321.7" stroke="#000" stroke-width="1.1"/>
<text transform="translate(355.92,324.1) rotate(-90) scale(0.955,1)" font-size="7.3" text-anchor="end" >SP CD8+</text>
<line x1="365.24" y1="318.5" x2="365.24" y2="321.7" stroke="#000" stroke-width="1.1"/>
<text transform="translate(367.94,324.1) rotate(-90) scale(0.955,1)" font-size="7.3" text-anchor="end" >DP CD4+CD8+</text>
<line x1="377.26" y1="318.5" x2="377.26" y2="321.7" stroke="#000" stroke-width="1.1"/>
<text transform="translate(379.96,324.1) rotate(-90) scale(0.955,1)" font-size="7.3" text-anchor="end" >SP CD4+</text>
<line x1="389.28" y1="318.5" x2="389.28" y2="321.7" stroke="#000" stroke-width="1.1"/>
<text transform="translate(391.98,324.1) rotate(-90) scale(0.955,1)" font-size="7.3" text-anchor="end" >SP CD8+</text>
<line x1="401.3" y1="318.5" x2="401.3" y2="321.7" stroke="#000" stroke-width="1.1"/>
<text transform="translate(404,324.1) rotate(-90) scale(0.955,1)" font-size="7.3" text-anchor="end" >DP CD4+CD8+</text>
<line x1="413.32" y1="318.5" x2="413.32" y2="321.7" stroke="#000" stroke-width="1.1"/>
<text transform="translate(416.02,324.1) rotate(-90) scale(0.955,1)" font-size="7.3" text-anchor="end" >SP CD4+</text>
<line x1="425.34" y1="318.5" x2="425.34" y2="321.7" stroke="#000" stroke-width="1.1"/>
<text transform="translate(428.04,324.1) rotate(-90) scale(0.955,1)" font-size="7.3" text-anchor="end" >SP CD8+</text>
<line x1="437.36" y1="318.5" x2="437.36" y2="321.7" stroke="#000" stroke-width="1.1"/>
<text transform="translate(440.06,324.1) rotate(-90) scale(0.955,1)" font-size="7.3" text-anchor="end" >DP CD4+CD8+</text>
<line x1="449.38" y1="318.5" x2="449.38" y2="321.7" stroke="#000" stroke-width="1.1"/>
<text transform="translate(452.08,324.1) rotate(-90) scale(0.955,1)" font-size="7.3" text-anchor="end" >SP CD4+</text>
<line x1="461.4" y1="318.5" x2="461.4" y2="321.7" stroke="#000" stroke-width="1.1"/>
<text transform="translate(464.1,324.1) rotate(-90) scale(0.955,1)" font-size="7.3" text-anchor="end" >SP CD8+</text>
<line x1="473.42" y1="318.5" x2="473.42" y2="321.7" stroke="#000" stroke-width="1.1"/>
<text transform="translate(476.12,324.1) rotate(-90) scale(0.955,1)" font-size="7.3" text-anchor="end" >DP CD4+CD8+</text>
<line x1="485.44" y1="318.5" x2="485.44" y2="321.7" stroke="#000" stroke-width="1.1"/>
<text transform="translate(488.14,324.1) rotate(-90) scale(0.955,1)" font-size="7.3" text-anchor="end" >SP CD4+</text>
<line x1="497.46" y1="318.5" x2="497.46" y2="321.7" stroke="#000" stroke-width="1.1"/>
<text transform="translate(500.16,324.1) rotate(-90) scale(0.955,1)" font-size="7.3" text-anchor="end" >SP CD8+</text>
<line x1="509.48" y1="318.5" x2="509.48" y2="321.7" stroke="#000" stroke-width="1.1"/>
<text transform="translate(512.18,324.1) rotate(-90) scale(0.955,1)" font-size="7.3" text-anchor="end" >DP CD4+CD8+</text>
</svg>
</body></html>
